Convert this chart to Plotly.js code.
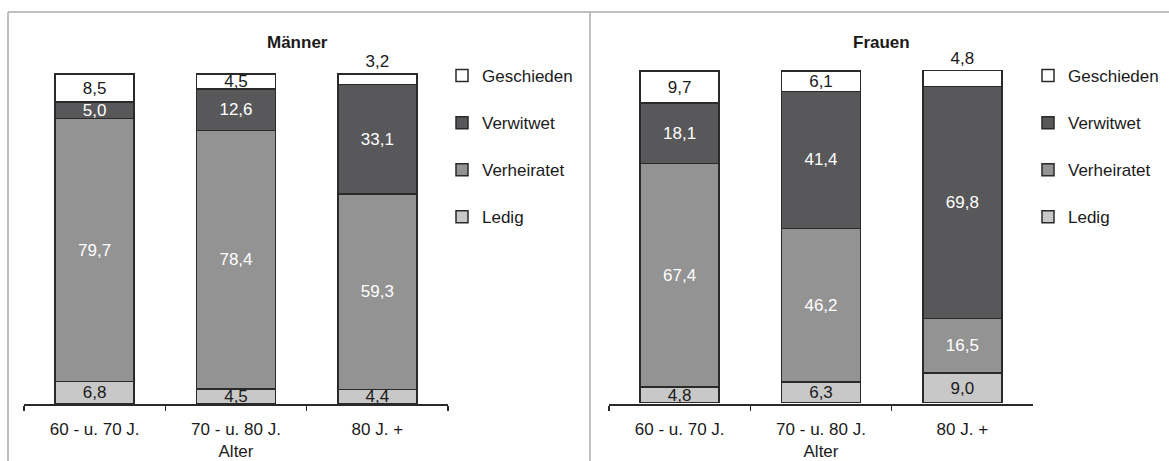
<!DOCTYPE html>
<html><head><meta charset="utf-8">
<script src="https://cdn.plot.ly/plotly-3.0.1.min.js"></script>
<style>body{margin:0;background:#fff}#chart{width:1169px;height:461px}</style>
</head><body><div id="chart"></div>
<script>
// ---- data ----
const categories = ['60 - u. 70 J.', '70 - u. 80 J.', '80 J. +'];
const seriesNames = ['Ledig', 'Verheiratet', 'Verwitwet', 'Geschieden'];
const maennerLedig = [6.8, 4.5, 4.4];
const maennerVerheiratet = [79.7, 78.4, 59.3];
const maennerVerwitwet = [5.0, 12.6, 33.1];
const maennerGeschieden = [8.5, 4.5, 3.2];
const frauenLedig = [4.8, 6.3, 9.0];
const frauenVerheiratet = [67.4, 46.2, 16.5];
const frauenVerwitwet = [18.1, 41.4, 69.8];
const frauenGeschieden = [9.7, 6.1, 4.8];
const panelTitles = ['Männer', 'Frauen'];
const axisTitle = 'Alter';

// ---- styles ----
const FONT = '"Liberation Sans", Arial, sans-serif';
const FS = 17;
const TXT = '#1a1a1a';
const fills = ['#c8c8c8', '#939393', '#58585a', '#ffffff'];
const labelColors = [TXT, '#ffffff', '#ffffff', TXT];
const fmt = v => v.toFixed(1).replace('.', ',');

function makeTraces(seriesData, xa, ya, legendId, topPositions) {
  return seriesData.map((vals, i) => ({
    type: 'bar',
    name: seriesNames[i],
    x: categories,
    y: vals,
    xaxis: xa, yaxis: ya,
    legend: legendId,
    legendgroup: legendId + seriesNames[i],
    legendrank: seriesNames.length - i,
    marker: {color: fills[i], line: {color: '#2a2a2a', width: 1.5}},
    text: vals.map(fmt),
    textposition: i === 3 ? topPositions : 'inside',
    insidetextanchor: 'middle',
    textangle: 0,
    constraintext: 'none',
    cliponaxis: false,
    insidetextfont: {family: FONT, size: FS, color: labelColors[i]},
    outsidetextfont: {family: FONT, size: FS, color: TXT},
    hoverinfo: 'skip'
  }));
}

const traces = [].concat(
  makeTraces([maennerLedig, maennerVerheiratet, maennerVerwitwet, maennerGeschieden], 'x', 'y', 'legend', ['inside', 'inside', 'outside']),
  makeTraces([frauenLedig, frauenVerheiratet, frauenVerwitwet, frauenGeschieden], 'x2', 'y2', 'legend2', ['inside', 'inside', 'outside'])
);

const W = 1169, H = 461;
const px = v => v / W, py = v => 1 - v / H;
const YMAX = 101;

function xaxis(domain) {
  return {
    domain: domain, type: 'category', range: [-0.5, 2.5],
    showline: true, linecolor: '#2a2a2a', linewidth: 1.5,
    ticks: 'outside', tickson: 'boundaries', ticklen: 5, tickwidth: 1.5, tickcolor: '#2a2a2a',
    ticklabelstandoff: 9,
    showgrid: false, zeroline: false,
    tickfont: {family: FONT, size: FS, color: TXT},
    title: {text: axisTitle, font: {family: FONT, size: FS, color: TXT}, standoff: 11},
    fixedrange: true
  };
}
function yaxis(domain) {
  return {domain: domain, range: [0, YMAX], visible: false, fixedrange: true};
}
function legend(x, y) {
  return {
    x: x, y: y, xanchor: 'left', yanchor: 'top',
    traceorder: 'grouped', tracegroupgap: 22,
    font: {family: FONT, size: FS, color: TXT},
    bgcolor: 'rgba(0,0,0,0)', itemwidth: 30, itemclick: false
  };
}
// pixel rows: value 0 and value 100 for each panel
const y0L = 404, y100L = 74, y0R = 403, y100R = 71;
const topL = y0L - (y0L - y100L) * YMAX / 100;
const topR = y0R - (y0R - y100R) * YMAX / 100;

const borderColor = '#ababab';
const layout = {
  width: W, height: H,
  margin: {l: 0, r: 0, t: 0, b: 0},
  paper_bgcolor: '#fff', plot_bgcolor: '#fff',
  barmode: 'stack', bargap: 0.44,
  showlegend: true,
  font: {family: FONT, size: FS, color: TXT},
  xaxis: xaxis([px(24), px(448)]),
  yaxis: yaxis([py(y0L), py(topL)]),
  xaxis2: xaxis([px(609), px(1033)]),
  yaxis2: yaxis([py(y0R), py(topR)]),
  legend: legend(px(442), py(58)),
  legend2: legend(px(1028), py(58)),
  annotations: [
    {text: '<b>' + panelTitles[0] + '</b>', xref: 'paper', yref: 'paper', x: px(297), y: py(42), showarrow: false, xanchor: 'center', yanchor: 'middle', font: {family: FONT, size: FS, color: TXT}},
    {text: '<b>' + panelTitles[1] + '</b>', xref: 'paper', yref: 'paper', x: px(881), y: py(42), showarrow: false, xanchor: 'center', yanchor: 'middle', font: {family: FONT, size: FS, color: TXT}}
  ],
  shapes: [
    {type: 'line', xref: 'paper', yref: 'paper', x0: px(8), x1: 1, y0: py(12), y1: py(12), line: {color: borderColor, width: 1.5}},
    {type: 'line', xref: 'paper', yref: 'paper', x0: px(8), x1: px(8), y0: py(12), y1: 0, line: {color: borderColor, width: 1.5}},
    {type: 'line', xref: 'paper', yref: 'paper', x0: px(590), x1: px(590), y0: py(12), y1: 0, line: {color: borderColor, width: 1.5}}
  ]
};

Plotly.newPlot('chart', traces, layout, {displayModeBar: false, staticPlot: true});
</script></body></html>
